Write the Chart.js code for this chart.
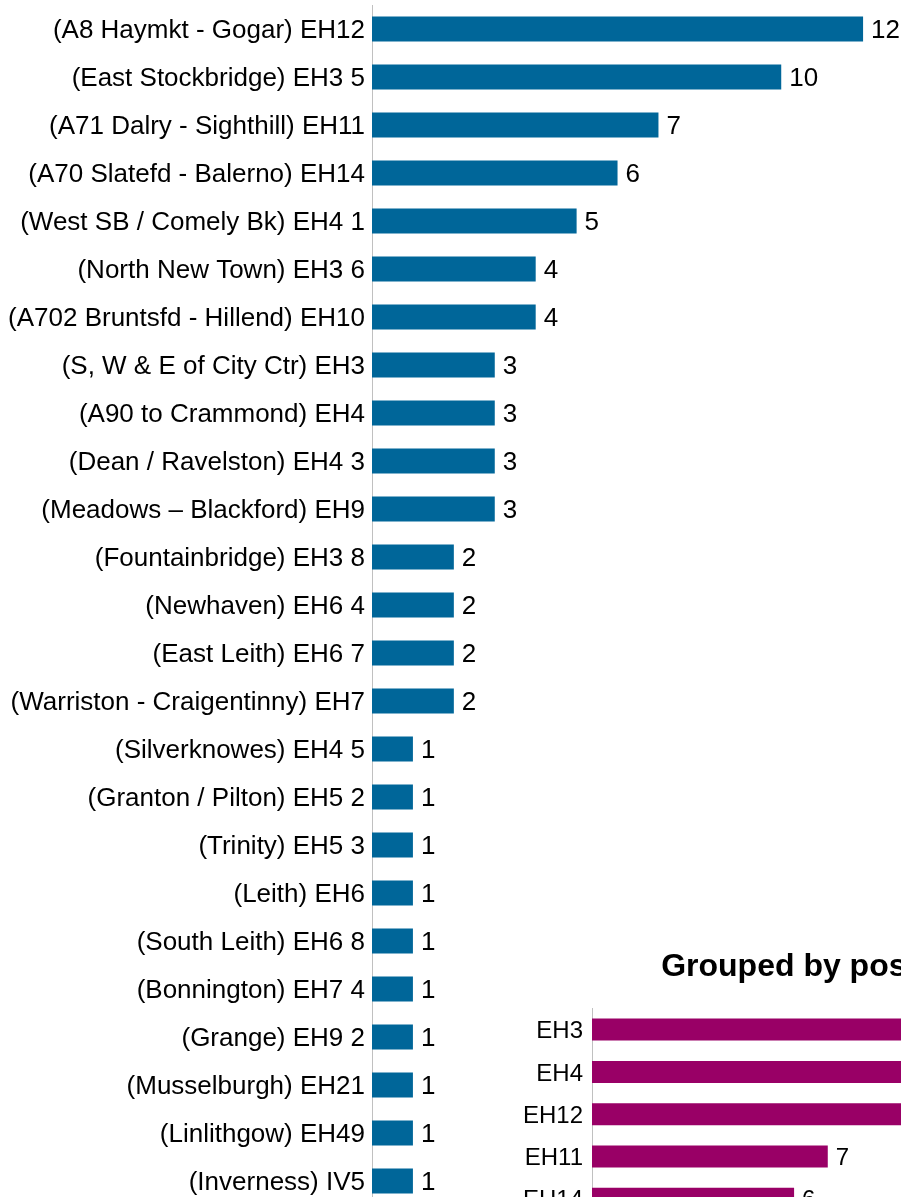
<!DOCTYPE html>
<html>
<head>
<meta charset="utf-8">
<script src="https://cdn.jsdelivr.net/npm/chart.js@4/dist/chart.umd.min.js"></script>
<style>
  html, body { margin: 0; padding: 0; background: #fff; overflow: hidden; width: 901px; height: 1197px; }
  #areaChart { position: absolute; left: 0; top: 0; }
  #groupChart { position: absolute; left: 320px; top: 930px; }
</style>
</head>
<body>
<canvas id="areaChart" width="904" height="1205"></canvas>
<canvas id="groupChart" width="1013" height="290"></canvas>
<script>
const areaLabels = [
  '(A8 Haymkt - Gogar) EH12', '(East Stockbridge) EH3 5', '(A71 Dalry - Sighthill) EH11',
  '(A70 Slatefd - Balerno) EH14', '(West SB / Comely Bk) EH4 1', '(North New Town) EH3 6',
  '(A702 Bruntsfd - Hillend) EH10', '(S, W & E of City Ctr) EH3', '(A90 to Crammond) EH4',
  '(Dean / Ravelston) EH4 3', '(Meadows – Blackford) EH9', '(Fountainbridge) EH3 8',
  '(Newhaven) EH6 4', '(East Leith) EH6 7', '(Warriston - Craigentinny) EH7',
  '(Silverknowes) EH4 5', '(Granton / Pilton) EH5 2', '(Trinity) EH5 3', '(Leith) EH6',
  '(South Leith) EH6 8', '(Bonnington) EH7 4', '(Grange) EH9 2', '(Musselburgh) EH21',
  '(Linlithgow) EH49', '(Inverness) IV5'
];
const areaValues = [12, 10, 7, 6, 5, 4, 4, 3, 3, 3, 3, 2, 2, 2, 2, 1, 1, 1, 1, 1, 1, 1, 1, 1, 1];

const groupTitle = 'Grouped by postcode';
const groupLabels = ['EH3', 'EH4', 'EH12', 'EH11', 'EH14'];
const groupValues = [19, 12, 12, 7, 6];

const FONT = "'Liberation Sans', Arial, sans-serif";

// values drawn just past the end of each bar
const valueLabels = {
  id: 'valueLabels',
  afterDatasetsDraw(chart, args, opts) {
    const ctx = chart.ctx;
    ctx.save();
    ctx.font = `${opts.size || 25}px ${FONT}`;
    ctx.fillStyle = '#000';
    ctx.textAlign = 'left';
    ctx.textBaseline = 'middle';
    chart.getDatasetMeta(0).data.forEach((bar, i) => {
      ctx.fillText(chart.data.datasets[0].data[i], bar.x + 8, bar.y + 2);
    });
    ctx.restore();
  }
};

function barChart(id, labels, values, color, opts) {
  return new Chart(document.getElementById(id), {
    type: 'bar',
    data: {
      labels,
      datasets: [{ data: values, backgroundColor: color, borderWidth: 0, barPercentage: 0.52, categoryPercentage: 1 }]
    },
    options: {
      indexAxis: 'y',
      responsive: false,
      animation: false,
      layout: { padding: { top: opts.padTop, right: 0, bottom: 0, left: 0 } },
      scales: {
        x: { display: false, min: 0, max: opts.max },
        y: {
          afterFit(scale) {
            scale.width = opts.axisWidth;
            // bands are offset, so no room is needed for half labels
            scale.paddingTop = 0;
            scale.paddingBottom = 0;
          },
          grid: { display: false, drawTicks: false },
          border: { display: true, color: '#c0c0c0', width: 1 },
          ticks: { padding: opts.tickPad, labelOffset: 2, color: '#000', font: { family: FONT, size: opts.tickSize } }
        }
      },
      plugins: {
        legend: { display: false },
        tooltip: { enabled: false },
        valueLabels: { size: opts.tickSize },
        title: opts.title ? {
          display: true, text: opts.title, color: '#000',
          font: { family: FONT, size: 32, weight: 'bold' },
          padding: { top: 18, bottom: 22 }
        } : { display: false }
      }
    },
    plugins: [valueLabels]
  });
}

barChart('areaChart', areaLabels, areaValues, '#006699', { max: 13, axisWidth: 372, padTop: 5, tickPad: 7, tickSize: 26 });
barChart('groupChart', groupLabels, groupValues, '#990066', { max: 22, axisWidth: 272, padTop: 0, tickPad: 9, tickSize: 24, title: groupTitle });
</script>
</body>
</html>
